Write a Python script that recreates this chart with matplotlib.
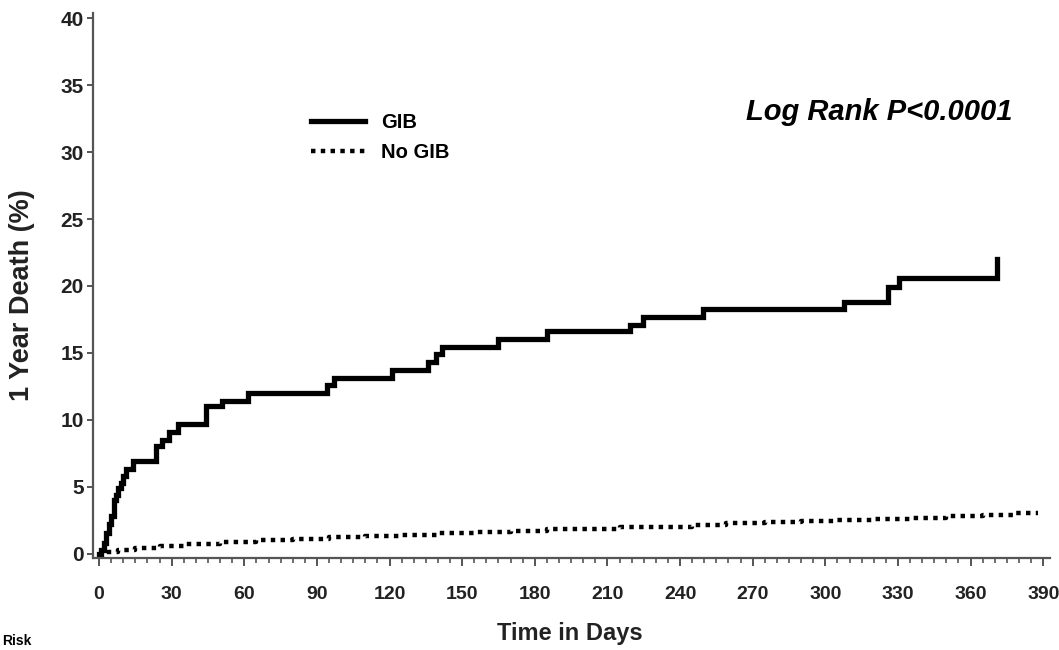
#!/usr/bin/env python3

import numpy as np
import matplotlib
matplotlib.use( 'Agg' )
import matplotlib.pyplot as plt
from matplotlib.ticker import MultipleLocator

plt.rcParams['font.family'] = [ 'Liberation Sans', 'DejaVu Sans' ]

#### ========== Data ==========

# GIB group: event times [days] and cumulative 1 year death [%]
gibDays = [ 0, 1, 2, 3, 4, 5, 6, 7, 8, 9, 10, 11, 14, 23.5, 25.9, 28.9,
            32.6, 44.2, 50.7, 61.5, 94, 97, 121, 136, 139, 141.5, 164.8,
            185, 219.3, 224.8, 249.6, 307.7, 326, 330.6, 370.8 ]
gibDeath = [ 0, 0.3, 0.8, 1.5, 2.2, 2.8, 4.0, 4.4, 4.9, 5.3, 5.8, 6.3,
             6.9, 8.0, 8.5, 9.1, 9.7, 11.0, 11.4, 12.0, 12.6, 13.1, 13.7,
             14.3, 14.9, 15.4, 16.0, 16.6, 17.1, 17.7, 18.25, 18.8, 19.9,
             20.6, 22.0 ]

# No GIB group
noGibDays = [ 0, 3, 8, 15, 25, 35, 50, 65, 80, 95, 110, 125, 140, 155,
              170, 185, 200, 215, 230, 245, 259, 275, 290, 305, 320, 335,
              350, 365, 378, 388 ]
noGibDeath = [ 0, 0.15, 0.3, 0.45, 0.6, 0.7, 0.85, 1.0, 1.1, 1.2, 1.3,
               1.4, 1.5, 1.6, 1.7, 1.8, 1.85, 1.95, 2.0, 2.1, 2.3, 2.35,
               2.4, 2.5, 2.6, 2.65, 2.8, 2.9, 3.0, 3.05 ]

labels = [ 'GIB', 'No GIB' ]
xTicks = np.arange( 0, 391, 30 )
yTicks = np.arange( 0, 41, 5 )

pText = 'Log Rank P<0.0001'

#### ====== End of Data =======

fig = plt.figure( figsize = ( 10.59, 6.50 ), dpi = 100 )
ax  = fig.add_axes( [ 0.0878, 0.1408, 0.9037, 0.8392 ] )

ax.plot( gibDays, gibDeath, drawstyle = 'steps-post', color = 'k',
         lw = 3.8, solid_joinstyle = 'miter', label = labels[0] )
ax.plot( noGibDays, noGibDeath, drawstyle = 'steps-post', color = 'k',
         lw = 3.2, linestyle = ( 0, ( 1, 1.2 ) ), dash_capstyle = 'butt',
         label = labels[1] )

ax.set_xlim( -2.5, 392.8 )
ax.set_ylim( -0.37, 40.4 )

ax.set_xticks( xTicks )
ax.set_yticks( yTicks )
ax.xaxis.set_minor_locator( MultipleLocator( 5 ) )

for s in [ 'top', 'right' ]:
    ax.spines[s].set_visible( False )
for s in [ 'left', 'bottom' ]:
    ax.spines[s].set_linewidth( 1.6 )
    ax.spines[s].set_color( '#555555' )

ax.tick_params( axis = 'x', which = 'major', length = 6, width = 1.4,
                color = '#555555', pad = 14 )
ax.tick_params( axis = 'x', which = 'minor', length = 3.5, width = 1.2,
                color = '#555555' )
ax.tick_params( axis = 'y', which = 'major', length = 4.5, width = 1.4,
                color = '#555555', pad = 2 )
for t in ax.get_xticklabels():
    t.set_fontweight( 'bold' )
    t.set_fontsize( 14 )
    t.set_color( '#222222' )
for t in ax.get_yticklabels():
    t.set_fontweight( 'bold' )
    t.set_fontsize( 15 )
    t.set_color( '#222222' )

ax.set_xlabel( 'Time in Days', fontsize = 17, fontweight = 'bold',
               color = '#222222' )
ax.set_ylabel( '1 Year Death (%)', fontsize = 19.5, fontweight = 'bold',
               color = '#222222' )
ax.xaxis.set_label_coords( 0.498, -0.138 )
ax.yaxis.set_label_coords( -0.074, 0.483 )
ax.xaxis.label.set_va( 'center' )
ax.yaxis.label.set_va( 'center' )

leg = ax.legend( loc = 'center left', bbox_to_anchor = ( 0.2765, 0.789 ),
                 bbox_transform = fig.transFigure, frameon = False,
                 prop = { 'size': 14.5, 'weight': 'bold' },
                 handlelength = 2.7, handletextpad = 0.8,
                 labelspacing = 0.55 )

fig.text( 1013 / 1059, 1 - 112 / 650, pText, ha = 'right', va = 'center',
          fontsize = 21, fontweight = 'bold', fontstyle = 'italic' )

# partly hidden text at the lower left edge of the original figure
fig.text( 2 / 1059, 2 / 650, 'Risk', ha = 'left', va = 'bottom',
          fontsize = 10, fontweight = 'bold' )

fig.savefig( 'out.png', dpi = 100 )
plt.close()
